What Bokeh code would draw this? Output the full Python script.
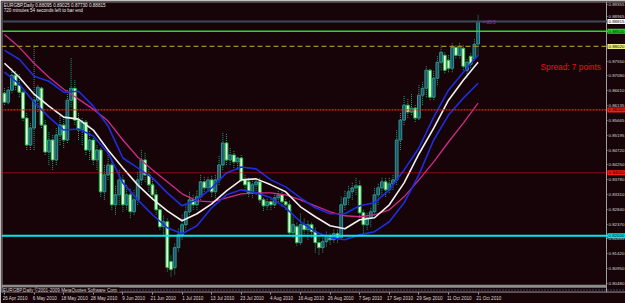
from bokeh.plotting import figure
from bokeh.models import Range1d, FixedTicker, Span, Label, PrintfTickFormatter, ColumnDataSource, BoxAnnotation
from bokeh.embed import file_html
from bokeh.resources import INLINE

# ---------------- data ----------------
tick_bars = [0, 8, 16, 24, 32, 40, 48, 56, 64, 72, 80, 88, 96, 104, 112, 120, 128]
date_labels = ["26 Apr 2010", "6 May 2010", "18 May 2010", "28 May 2010", "9 Jun 2010",
               "21 Jun 2010", "1 Jul 2010", "13 Jul 2010", "23 Jul 2010", "4 Aug 2010",
               "16 Aug 2010", "26 Aug 2010", "7 Sep 2010", "17 Sep 2010", "29 Sep 2010",
               "11 Oct 2010", "21 Oct 2010"]

opens = [0.86532, 0.86247, 0.86627, 0.87103, 0.86786, 0.86564, 0.85739, 0.84884, 0.85422, 0.86310,
         0.86690, 0.85518, 0.84662, 0.85042, 0.84408, 0.85201, 0.85518, 0.85042, 0.86310, 0.86690,
         0.85676, 0.85359, 0.85613, 0.84725, 0.85042, 0.84408, 0.84725, 0.83394, 0.83933, 0.84250,
         0.82982, 0.83299, 0.83774, 0.82982, 0.83299, 0.82760, 0.83140, 0.83774, 0.84408, 0.83933,
         0.83616, 0.83299, 0.82823, 0.82284, 0.82443, 0.81175, 0.80984, 0.81618, 0.82031, 0.82348,
         0.82760, 0.83140, 0.82982, 0.83235, 0.83711, 0.83520, 0.83774, 0.83394, 0.83774, 0.84250,
         0.84947, 0.84408, 0.84567, 0.84345, 0.84471, 0.83774, 0.83711, 0.83362, 0.83616, 0.83711,
         0.83140, 0.82950, 0.83077, 0.82982, 0.83203, 0.83299, 0.83077, 0.82982, 0.82094, 0.82284,
         0.81777, 0.82348, 0.82189, 0.82348, 0.82126, 0.81777, 0.81618, 0.81809, 0.81999, 0.81872,
         0.82062, 0.81935, 0.82982, 0.83203, 0.83394, 0.83520, 0.83584, 0.82728, 0.82348, 0.82569,
         0.82760, 0.83299, 0.83520, 0.83711, 0.83457, 0.83647, 0.83774, 0.85042, 0.85676, 0.86152,
         0.85930, 0.86056, 0.85739, 0.86469, 0.86690, 0.87261, 0.86405, 0.87007, 0.87515, 0.87737,
         0.87578, 0.87324, 0.87990, 0.87737, 0.87958, 0.87261, 0.87705, 0.87641, 0.88095]

highs = [0.86690, 0.86754, 0.87324, 0.87261, 0.87166, 0.86627, 0.85930, 0.85613, 0.88054, 0.86786,
         0.86754, 0.85676, 0.85296, 0.85201, 0.85422, 0.85835, 0.85739, 0.86627, 0.87673, 0.86944,
         0.85930, 0.85739, 0.85676, 0.85359, 0.85201, 0.84884, 0.84788, 0.84250, 0.84725, 0.84408,
         0.83616, 0.84091, 0.83933, 0.83616, 0.83520, 0.83457, 0.84028, 0.84725, 0.84662, 0.84154,
         0.83837, 0.83457, 0.82982, 0.82665, 0.82569, 0.81397, 0.81777, 0.82252, 0.82665, 0.82982,
         0.83394, 0.83299, 0.83457, 0.83933, 0.83869, 0.83901, 0.83901, 0.83933, 0.84567, 0.85296,
         0.85264, 0.84788, 0.84725, 0.84503, 0.84567, 0.83933, 0.83837, 0.83774, 0.83837, 0.83837,
         0.83235, 0.83203, 0.83172, 0.83362, 0.83457, 0.83394, 0.83203, 0.83140, 0.82601, 0.82443,
         0.82728, 0.82569, 0.82506, 0.82443, 0.82252, 0.81935, 0.81935, 0.82126, 0.82094, 0.82189,
         0.82189, 0.83235, 0.83457, 0.83616, 0.83711, 0.83837, 0.83774, 0.82823, 0.82728, 0.82886,
         0.83520, 0.83679, 0.83869, 0.83837, 0.83869, 0.83933, 0.85359, 0.85930, 0.86469, 0.86373,
         0.86532, 0.86152, 0.86786, 0.86881, 0.87388, 0.87324, 0.87261, 0.87705, 0.88054, 0.87832,
         0.87737, 0.88149, 0.88085, 0.88149, 0.88054, 0.87641, 0.87832, 0.88275, 0.89025]

lows = [0.86152, 0.86183, 0.86532, 0.86627, 0.86405, 0.85644, 0.84725, 0.84725, 0.84725, 0.85930,
        0.85422, 0.84567, 0.84250, 0.84091, 0.84250, 0.84884, 0.84788, 0.84947, 0.86088, 0.85518,
        0.85042, 0.84884, 0.84567, 0.84408, 0.84250, 0.84091, 0.83235, 0.83140, 0.83774, 0.82823,
        0.82665, 0.82982, 0.82760, 0.82823, 0.82569, 0.82665, 0.82982, 0.83616, 0.83711, 0.83394,
        0.83140, 0.82665, 0.82189, 0.82031, 0.80858, 0.80699, 0.80763, 0.81492, 0.81872, 0.82189,
        0.82665, 0.82823, 0.82823, 0.83140, 0.83394, 0.83394, 0.83235, 0.83203, 0.83616, 0.84091,
        0.84250, 0.84250, 0.84154, 0.84091, 0.83711, 0.83457, 0.83235, 0.83203, 0.83299, 0.83045,
        0.82791, 0.82823, 0.82823, 0.82886, 0.83077, 0.82918, 0.82823, 0.81999, 0.81935, 0.81682,
        0.81714, 0.81999, 0.81872, 0.81935, 0.81460, 0.81397, 0.81460, 0.81650, 0.81714, 0.81777,
        0.81777, 0.81872, 0.82823, 0.82982, 0.83140, 0.83299, 0.82569, 0.82094, 0.82189, 0.82284,
        0.82665, 0.82982, 0.83299, 0.83235, 0.83362, 0.83457, 0.83616, 0.84725, 0.85518, 0.85739,
        0.85835, 0.85613, 0.85676, 0.86152, 0.86405, 0.86310, 0.86310, 0.86786, 0.87261, 0.87166,
        0.87198, 0.87198, 0.87641, 0.87641, 0.87261, 0.87007, 0.87324, 0.87578, 0.87730]

closes = [0.86247, 0.86627, 0.87103, 0.86786, 0.86564, 0.85739, 0.84884, 0.85422, 0.86310, 0.86722,
          0.85518, 0.84662, 0.85042, 0.84408, 0.85201, 0.85518, 0.85042, 0.86310, 0.86690, 0.85676,
          0.85359, 0.85613, 0.84725, 0.85042, 0.84408, 0.84725, 0.83394, 0.83933, 0.84250, 0.82982,
          0.83299, 0.83774, 0.82982, 0.83299, 0.82760, 0.83140, 0.83774, 0.84408, 0.83933, 0.83616,
          0.83299, 0.82823, 0.82284, 0.82443, 0.80984, 0.80921, 0.81618, 0.82031, 0.82348, 0.82760,
          0.83140, 0.82982, 0.83235, 0.83711, 0.83520, 0.83774, 0.83394, 0.83774, 0.84250, 0.84947,
          0.84408, 0.84567, 0.84345, 0.84471, 0.83774, 0.83616, 0.83362, 0.83616, 0.83711, 0.83140,
          0.82950, 0.83077, 0.82982, 0.83203, 0.83299, 0.83077, 0.82982, 0.82094, 0.82348, 0.81777,
          0.82348, 0.82189, 0.82348, 0.82126, 0.81777, 0.81618, 0.81809, 0.81999, 0.81872, 0.82062,
          0.81935, 0.82982, 0.83203, 0.83394, 0.83520, 0.83584, 0.82728, 0.82348, 0.82569, 0.82760,
          0.83299, 0.83520, 0.83711, 0.83457, 0.83647, 0.83774, 0.85042, 0.85676, 0.86152, 0.85930,
          0.86056, 0.85739, 0.86469, 0.86690, 0.87261, 0.86405, 0.87007, 0.87515, 0.87832, 0.87261,
          0.87324, 0.87990, 0.87737, 0.88022, 0.87388, 0.87515, 0.87451, 0.88085, 0.88815]

ma_bars = list(range(0, 129, 4))
ma_white = [0.87483, 0.87039, 0.86500, 0.86120, 0.85771, 0.85708, 0.85359, 0.84725, 0.84154, 0.83616,
            0.83172, 0.82791, 0.82474, 0.82696, 0.83013, 0.83425, 0.83774, 0.83806, 0.83616, 0.83394,
            0.82918, 0.82601, 0.82316, 0.82221, 0.82506, 0.82569, 0.82982, 0.83679, 0.84598, 0.85422,
            0.86310, 0.86944, 0.87515]
ma_blue_upper = [0.87895, 0.87610, 0.87071, 0.86912, 0.86564, 0.86595, 0.86120, 0.85486, 0.84471, 0.84154,
                 0.83837, 0.83362, 0.82950, 0.83140, 0.83520, 0.83996, 0.84186, 0.84123, 0.83774, 0.83552,
                 0.83203, 0.82886, 0.82696, 0.82696, 0.82950, 0.83045, 0.83457, 0.84091, 0.84788, 0.85771,
                 0.86627, 0.87198, 0.87737]
ma_blue_lower = [0.87198, 0.86817, 0.86247, 0.85771, 0.85359, 0.85391, 0.85169, 0.84630, 0.83679, 0.83140,
                 0.82665, 0.82252, 0.82062, 0.82316, 0.82886, 0.83299, 0.83457, 0.83362, 0.83203, 0.82886,
                 0.82443, 0.82126, 0.81935, 0.81872, 0.82031, 0.82126, 0.82443, 0.83045, 0.83933, 0.85042,
                 0.85835, 0.86373, 0.86849]
ma_magenta = [0.88402, 0.87990, 0.87483, 0.87039, 0.86659, 0.86342, 0.86025, 0.85644, 0.85042, 0.84503,
              0.84091, 0.83711, 0.83330, 0.83108, 0.83077, 0.83203, 0.83330, 0.83362, 0.83362, 0.83299,
              0.83140, 0.82950, 0.82760, 0.82633, 0.82601, 0.82665, 0.82823, 0.83235, 0.83774, 0.84345,
              0.84979, 0.85581, 0.86215]

price_ticks = [0.80480, 0.80950, 0.81420, 0.81895, 0.82370, 0.82840, 0.83310, 0.83780, 0.84250, 0.84720,
               0.85195, 0.85665, 0.86135, 0.86610, 0.87080, 0.87550, 0.88020, 0.88490, 0.88965, 0.89355]

bid_price = 0.88815
green_level = 0.88500
yellow_level = 0.88020
red_level_1 = 0.86000
red_level_2 = 0.84000
cyan_level = 0.82000

# ---------------- layout helpers ----------------
PX_PER_BAR = 3.7
BAR0_PX = 4.0
P_TOP = 0.8948        # price at pixel row 0
P_PER_PX = 0.000317
FRAME_L, FRAME_R, FRAME_T, FRAME_B = 1, 625, 1, 293
AXIS_PX = 606         # column of the price scale
LABEL_SHIFT = 2.9     # date text starts at its bar, so its centre sits to the right


def px_price(row):
    return P_TOP - P_PER_PX * row


def px_bar(col):
    return (col - BAR0_PX) / PX_PER_BAR


X0, X1 = px_bar(FRAME_L), px_bar(FRAME_R)
Y0, Y1 = px_price(FRAME_B), px_price(FRAME_T)

BG = "#170408"
FONT = "Liberation Sans"
SMALL = "4.6px"
SCALE_FONT = "4.4px"

p = figure(width=625, height=303, output_backend="svg", toolbar_location=None,
           x_range=Range1d(X0, X1), y_range=Range1d(Y0, Y1), y_axis_location="right",
           background_fill_color=BG, border_fill_color=BG, outline_line_color=None,
           min_border_left=FRAME_L, min_border_top=FRAME_T, min_border_right=0,
           min_border_bottom=303 - FRAME_B)
p.grid.visible = False

xa = p.xaxis[0]
xa.ticker = FixedTicker(ticks=[b + LABEL_SHIFT for b in tick_bars], minor_ticks=tick_bars)
xa.major_label_overrides = {b + LABEL_SHIFT: t for b, t in zip(tick_bars, date_labels)}
xa.major_label_text_font = FONT
xa.major_label_text_font_size = SMALL
xa.major_label_text_color = "#d8d8d8"
xa.major_label_standoff = 1
xa.axis_line_color = None
xa.major_tick_line_color = None
xa.major_tick_out = 0
xa.major_tick_in = 0
xa.minor_tick_line_color = "#a0a0a0"
xa.minor_tick_out = 2
xa.minor_tick_in = 0

ya = p.yaxis[0]
ya.fixed_location = px_bar(AXIS_PX)
ya.ticker = FixedTicker(ticks=price_ticks)
ya.formatter = PrintfTickFormatter(format="%.5f")
ya.major_label_text_font = FONT
ya.major_label_text_font_size = SCALE_FONT
ya.major_label_text_color = "#d8d8d8"
ya.major_label_standoff = 1
ya.axis_line_color = "#a0a0a0"
ya.major_tick_line_color = "#a0a0a0"
ya.major_tick_out = 1
ya.major_tick_in = 0
ya.minor_tick_line_color = None

# window borders (top, left, bottom of the sub-window)
p.add_layout(Span(location=px_price(1.5), dimension="width", line_color="#8c8c8c", line_width=1))
p.add_layout(Span(location=px_bar(1.5), dimension="height", line_color="#8c8c8c", line_width=1))
p.add_layout(Span(location=px_price(292.5), dimension="width", line_color="#8c8c8c", line_width=1))

# horizontal levels
p.add_layout(Span(location=bid_price, dimension="width", line_color="#3a4a5c", line_width=2))
p.add_layout(Span(location=green_level, dimension="width", line_color="#22dd22", line_width=1.5))
p.add_layout(Span(location=yellow_level, dimension="width", line_color="#a08c2a", line_width=1.2,
                  line_dash="5 3"))
p.add_layout(Span(location=red_level_1, dimension="width", line_color="#ff1a1a", line_width=1.2,
                  line_dash="2 1"))
p.add_layout(Span(location=red_level_2, dimension="width", line_color="#ff1a1a", line_width=1,
                  line_dash="1 1"))
p.add_layout(Span(location=cyan_level, dimension="width", line_color="#00e8f0", line_width=2))

# candles
idx = list(range(len(closes)))
bull = [c >= o for o, c in zip(opens, closes)]
src_bull = ColumnDataSource(dict(
    x=[i for i, b in zip(idx, bull) if b],
    top=[c for c, b in zip(closes, bull) if b],
    bottom=[o for o, b in zip(opens, bull) if b]))
src_bear = ColumnDataSource(dict(
    x=[i for i, b in zip(idx, bull) if not b],
    top=[o for o, b in zip(opens, bull) if not b],
    bottom=[c for c, b in zip(closes, bull) if not b]))

p.segment(x0=idx, y0=lows, x1=idx, y1=highs, line_color="#25a085", line_width=1, line_dash="1 1")
p.vbar(x="x", top="top", bottom="bottom", width=0.75, source=src_bull,
       fill_color="#22506e", line_color="#2a9a8c", line_width=1)
p.vbar(x="x", top="top", bottom="bottom", width=0.75, source=src_bear,
       fill_color="#e8ffe4", line_color="#22bb44", line_width=1)

# moving averages
p.line(ma_bars, ma_magenta, line_color="#d02a8a", line_width=1.3)
p.line(ma_bars, ma_blue_upper, line_color="#1d2ee0", line_width=1.6)
p.line(ma_bars, ma_blue_lower, line_color="#1d2ee0", line_width=1.6)
p.line(ma_bars, ma_white, line_color="#f0f0f0", line_width=1.6)

# sub-window separator and its dotted trace
p.add_layout(BoxAnnotation(top=px_price(285.3), bottom=px_price(288.3), right=px_bar(AXIS_PX),
                           fill_color="#8c8c8c", fill_alpha=1, line_color=None))
p.add_layout(Span(location=px_price(290.5), dimension="width", line_color="#5d7fc7", line_width=1,
                  line_dash="1 2"))
p.add_layout(Label(x=X0 + 0.4, y=px_price(290.5),
                   text="EURGBP,Daily  \u00a92001-2009 MetaQuotes Software Corp.",
                   text_font=FONT, text_font_size=SMALL, text_color="#d8d8d8", text_baseline="middle",
                   background_fill_color=BG))

# header
p.add_layout(Label(x=X0 + 0.6, y=px_price(5), text="EURGBP,Daily  0.88095 0.89025 0.87730 0.88815",
                   text_font=FONT, text_font_size=SMALL, text_color="#e8e8e8", text_baseline="middle"))
p.add_layout(Label(x=X0 + 0.6, y=px_price(10), text="720 minutes 54 seconds left to bar end",
                   text_font=FONT, text_font_size=SMALL, text_color="#e8e8e8", text_baseline="middle"))

# spread info and timer next to the last bar
p.add_layout(Label(x=px_bar(540), y=px_price(67), text="Spread: 7 points", text_font=FONT,
                   text_font_size="8.3px", text_color="#e81414", text_baseline="middle"))
p.add_layout(Label(x=px_bar(482), y=px_price(22), text="<-20.5", text_font=FONT,
                   text_font_size=SMALL, text_color="#a828c8", text_baseline="middle"))

# price tags on the scale
for lvl, bg in [(bid_price, "#ffffff"), (green_level, "#22dd22"), (yellow_level, "#f0f080"),
                (red_level_1, "#ff1a1a"), (red_level_2, "#ff1a1a"), (cyan_level, "#00e8f0")]:
    p.add_layout(Label(x=px_bar(AXIS_PX + 1), y=lvl, text="%.5f" % lvl, text_font=FONT,
                       text_font_size=SCALE_FONT, text_color="#000000", text_baseline="middle",
                       background_fill_color=bg, padding=1))

open("out.html", "w").write(file_html(p, INLINE))
